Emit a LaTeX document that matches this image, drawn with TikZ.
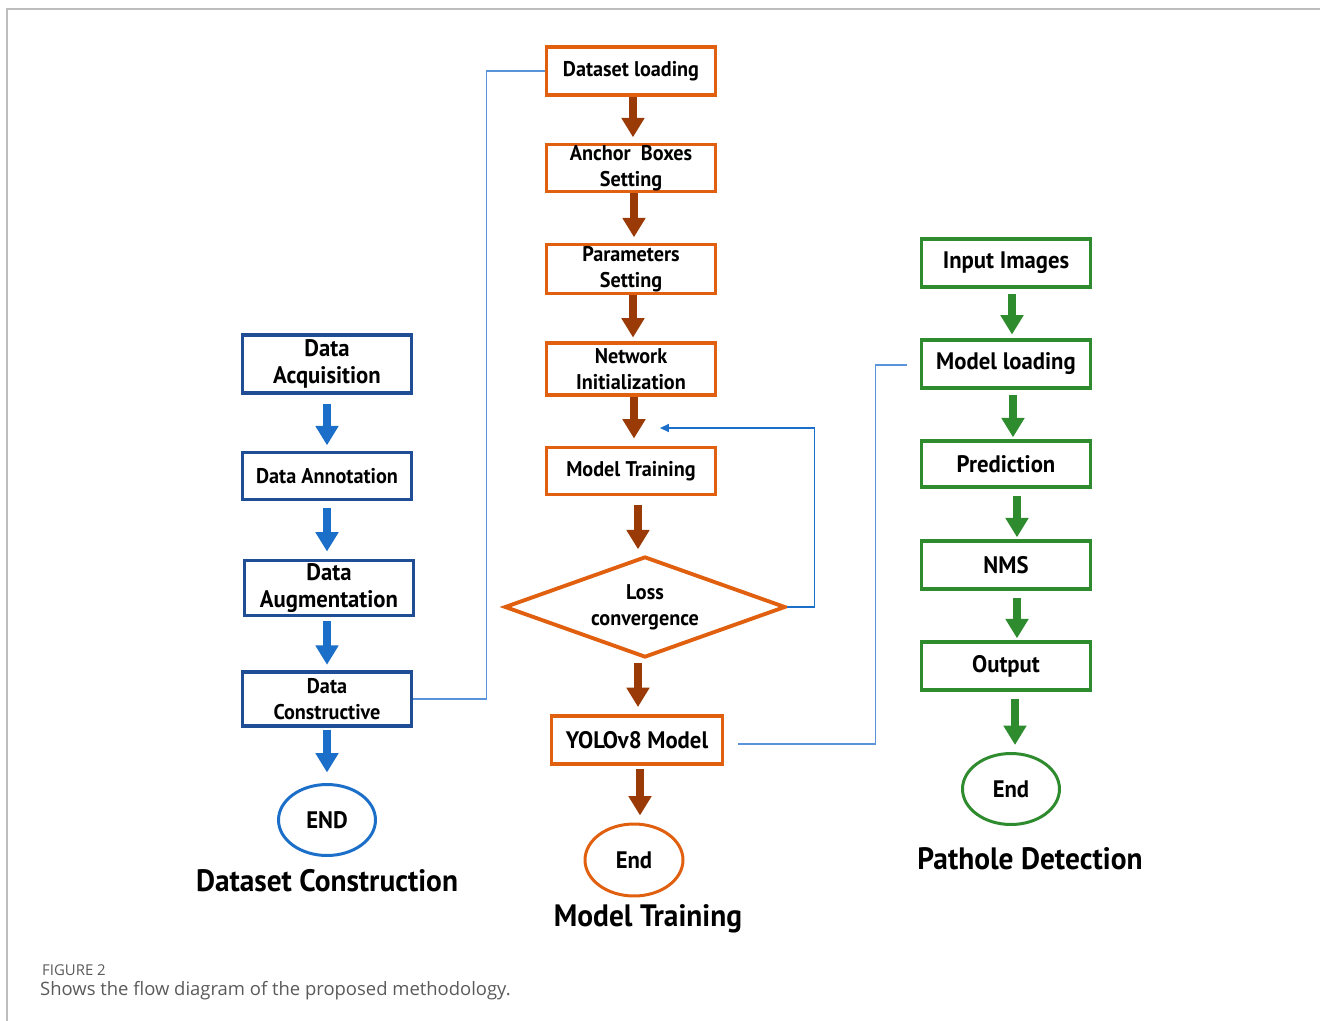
\documentclass[tikz,border=0pt]{standalone}
\usepackage{fontspec}
\setmainfont{PT Sans}[FakeStretch=0.95]
\newfontfamily\capfont{Open Sans}
\usetikzlibrary{shapes.geometric, arrows.meta, calc}

\definecolor{dcblue}{HTML}{1F4E96}
\definecolor{dcarrblue}{HTML}{1B6FC8}
\definecolor{mtorange}{HTML}{E0600F}
\definecolor{mtbrown}{HTML}{9A3A06}
\definecolor{pdgreen}{HTML}{2E8B2E}
\definecolor{linkblue}{HTML}{5B93DB}
\definecolor{framegray}{HTML}{BDBDBD}
\definecolor{capgray}{HTML}{5A5A5A}

\begin{document}
\begin{tikzpicture}[
        x=0.02cm, y=-0.02cm,
        fbig/.style={font=\bfseries\fontsize{13.6}{15.5}\selectfont},
        fmid/.style={font=\bfseries\fontsize{12.1}{15}\selectfont},
        box/.style={
            rectangle,
            line width=2.2pt,
            minimum width=3.38cm,
            minimum height=0.96cm,
            inner sep=0pt,
            align=center,
            fmid
        },
        dcbox/.style={box, draw=dcblue},
        mtbox/.style={box, draw=mtorange},
        pdbox/.style={box, draw=pdgreen},
        endnode/.style={
            ellipse,
            line width=1.7pt,
            minimum width=1.94cm,
            minimum height=1.42cm,
            inner sep=0pt,
            fbig
        },
        title/.style={font=\bfseries\fontsize{17.6}{20}\selectfont},
        blockarrow/.style={line width=4.2pt, -{Triangle[length=11pt, width=12.5pt]}},
        link/.style={draw=linkblue, line width=0.8pt}
    ]

    % page size and frame
    \useasboundingbox (0,0) rectangle (1320,1021);
    \draw[framegray, line width=0.8pt] (7,1021) -- (7,9) -- (1320,9);

    % --- dataset construction ---
    \node[dcbox, fbig, minimum height=1.16cm] (acq) at (327,364) {Data\\Acquisition};
    \node[dcbox, minimum height=0.94cm] (ann) at (327,476) {Data Annotation};
    \node[dcbox, fbig, minimum height=1.10cm] (aug) at (329,588) {Data\\Augmentation};
    \node[dcbox, minimum height=1.08cm] (cons) at (327,699) {Data\\Constructive};
    \node[endnode, draw=dcarrblue] (dcend) at (327,820) {END};
    \node[title] (dctitle) at (327,881) {Dataset Construction};

    % --- model training ---
    \node[mtbox] (load) at (631,71) {Dataset loading};
    \node[mtbox, minimum height=0.94cm] (anch) at (631,168) {Anchor~~Boxes\\Setting};
    \node[mtbox, minimum height=0.98cm] (param) at (631,269) {Parameters\\Setting};
    \node[mtbox, minimum height=1.04cm] (net) at (631,369) {Network\\Initialization};
    \node[mtbox, minimum height=0.94cm] (train) at (631,471) {Model Training};
    \node[diamond, draw=mtorange, line width=2.2pt, aspect=2.7,
          minimum width=5.62cm, minimum height=2.02cm, inner sep=0pt,
          align=center, fmid] (loss) at (645,607) {Loss\\convergence};
    \node[mtbox, fbig, minimum width=3.42cm] (yolo) at (637,740) {YOLOv8 Model};
    \node[endnode, draw=mtorange, minimum width=1.96cm, minimum height=1.44cm] (mtend) at (634,860) {End};
    \node[title] (mttitle) at (648,919) {Model Training};

    % --- pathole detection ---
    \node[pdbox, fbig] (inp) at (1006,263) {Input Images};
    \node[pdbox, fbig] (mload) at (1006,364) {Model loading};
    \node[pdbox, fbig, minimum height=0.92cm] (pred) at (1006,464) {Prediction};
    \node[pdbox, fbig] (nms) at (1006,565) {NMS};
    \node[pdbox, fbig] (out) at (1006,666) {Output};
    \node[endnode, draw=pdgreen] (pdend) at (1011,789) {End};
    \node[title] (pdtitle) at (1030,859) {Pathole Detection};

    % down arrows (from/to/colour/x offset/start gap/end gap)
    \foreach \a/\b/\c/\dx/\s/\e in {
        acq/ann/dcarrblue/0/5/3, ann/aug/dcarrblue/0/4/4,
        aug/cons/dcarrblue/-2/2/3, cons/dcend/dcarrblue/0/1/6,
        load/anch/mtbrown/2/0/3, anch/param/mtbrown/3/0/3,
        param/net/mtbrown/2/0/2, net/train/mtbrown/3/0/4,
        train/loss/mtbrown/7/5/3, loss/yolo/mtbrown/-7/2/4,
        yolo/mtend/mtbrown/3/2/4,
        inp/mload/pdgreen/6/3/2, mload/pred/pdgreen/7/3/1,
        pred/nms/pdgreen/11/4/1, nms/out/pdgreen/11/4/1,
        out/pdend/pdgreen/9/4/4
    } {
        \coordinate (s) at ($(\a.south)+(\dx,0)$);
        \draw[blockarrow, \c, shorten <=\s pt, shorten >=\e pt] (s) -- (s |- \b.north);
    }

    % thin links between the stages
    \coordinate (fbin) at (660,428);
    \draw[link, -{Triangle[length=5pt, width=4.5pt]}, dcarrblue] (loss.east) -- ++(27,0) |- (fbin);
    \draw[link] (cons.east) -- ++(73,0) |- (load.west);
    \coordinate (yout) at ($(yolo.east)+(14,4)$);
    \coordinate (mlin) at ($(mload.west)+(-13,1)$);
    \draw[link] (yout) -- ++(137,0) |- (mlin);

    % caption
    \node[anchor=base west, text=capgray, font=\capfont\fontsize{8.5}{10}\selectfont] (fignum) at (36,975) {FIGURE 2};
    \node[anchor=base west, text=capgray, font=\capfont\fontsize{10.5}{12}\selectfont] (figcap) at (34,995) {Shows the flow diagram of the proposed methodology.};

\end{tikzpicture}
\end{document}
